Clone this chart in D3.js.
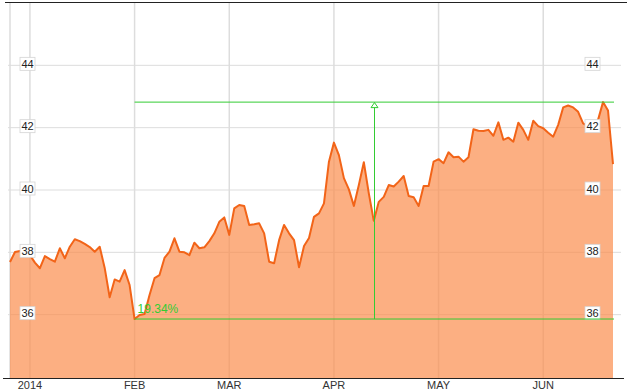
<!DOCTYPE html>
<html>
<head>
<meta charset="utf-8">
<script src="https://cdn.jsdelivr.net/npm/d3@7"></script>
<style>
  html, body { margin: 0; padding: 0; background: #fff; }
  svg { display: block; font-family: "Liberation Sans", Arial, sans-serif; }
</style>
</head>
<body>
<div id="chart"></div>
<script>
// daily closes, one per trading day (late Dec 2013 .. mid Jun 2014)
const closes = [
  37.69, 38.01, 38.04, 38.01, 37.91, 37.67, 37.49, 37.88, 37.78, 37.70,
  38.13, 37.81, 38.18, 38.42, 38.36, 38.27, 38.17, 38.02, 38.18, 37.50,
  36.56, 37.13, 37.06, 37.43, 36.95, 35.86, 35.99, 36.02, 36.63, 37.17,
  37.27, 37.82, 38.02, 38.45, 38.02, 38.00, 37.91, 38.31, 38.13, 38.16,
  38.36, 38.61, 38.98, 39.12, 38.56, 39.41, 39.52, 39.49, 38.88, 38.90,
  38.93, 38.61, 37.70, 37.65, 38.39, 38.88, 38.61, 38.39, 37.52, 38.20,
  38.46, 39.14, 39.25, 39.57, 40.91, 41.52, 41.12, 40.38, 40.02, 39.49,
  40.16, 40.89, 39.89, 39.01, 39.62, 39.78, 40.16, 40.11, 40.27, 40.45,
  39.81, 39.77, 39.49, 40.13, 40.13, 40.91, 40.99, 40.86, 41.21, 41.05,
  41.07, 40.91, 41.05, 41.95, 41.90, 41.89, 41.93, 41.74, 42.17, 41.61,
  41.68, 41.55, 42.16, 41.93, 41.61, 42.22, 42.05, 41.98, 41.84, 41.71,
  42.09, 42.65, 42.71, 42.65, 42.51, 42.14, 42.05, 42.05, 42.25, 42.82,
  42.55, 40.83
];

// month ticks: index of first trading day in each month
const monthIdx = [4, 25, 44, 65, 86, 107];
const monthLabels = ["2014", "FEB", "MAR", "APR", "MAY", "JUN"];
const priceTicks = [36, 38, 40, 42, 44];

// measure annotation
const measureIdx = 73;
const measureLabel = "19.34%";

const w = 629, h = 391;
const green = "#33cc33";

const svg = d3.select("#chart").append("svg")
  .attr("width", w)
  .attr("height", h);

const x = d3.scaleLinear()
  .domain([0, closes.length - 1])
  .range([10, 613]);
const y = d3.scaleLinear()
  .domain([34, 46])
  .range([377, 3]);

// vertical grid
svg.append("line")
  .attr("x1", 10).attr("x2", 10)
  .attr("y1", 2).attr("y2", 378)
  .attr("stroke", "#dddddd").attr("stroke-width", 1.5);
svg.selectAll(".vgrid")
  .data(monthIdx)
  .enter().append("line")
  .attr("class", "vgrid")
  .attr("x1", d => x(d)).attr("x2", d => x(d))
  .attr("y1", 2).attr("y2", 378)
  .attr("stroke", "#dddddd").attr("stroke-width", 1.5);

// horizontal grid
svg.selectAll(".hgrid")
  .data(priceTicks)
  .enter().append("line")
  .attr("class", "hgrid")
  .attr("x1", 8).attr("x2", 621)
  .attr("y1", d => y(d)).attr("y2", d => y(d))
  .attr("stroke", "#dddddd").attr("stroke-width", 1);

// area + line
const area = d3.area()
  .x((d, i) => x(i))
  .y0(378)
  .y1(d => y(d));
const line = d3.line()
  .x((d, i) => x(i))
  .y(d => y(d));

svg.append("path")
  .datum(closes)
  .attr("d", area)
  .attr("fill", "#fb8d4d")
  .attr("fill-opacity", 0.7);
svg.append("path")
  .datum(closes)
  .attr("d", line)
  .attr("fill", "none")
  .attr("stroke", "#f26418")
  .attr("stroke-width", 2)
  .attr("stroke-linejoin", "round");

// frame lines
svg.append("line")
  .attr("x1", 5).attr("x2", 627)
  .attr("y1", 2.5).attr("y2", 2.5)
  .attr("stroke", "#222").attr("stroke-width", 1.2);
svg.append("line")
  .attr("x1", 3).attr("x2", 624)
  .attr("y1", 378.5).attr("y2", 378.5)
  .attr("stroke", "#222").attr("stroke-width", 1.2);

// month labels
svg.selectAll(".mlabel")
  .data(monthIdx)
  .enter().append("text")
  .attr("class", "mlabel")
  .attr("x", d => x(d))
  .attr("y", 389)
  .attr("text-anchor", "middle")
  .attr("font-size", "11px")
  .attr("fill", "#333")
  .text((d, i) => monthLabels[i]);

// price labels, both sides
[27.5, 592.5].forEach(cx => {
  const g = svg.selectAll(null)
    .data(priceTicks)
    .enter().append("g")
    .attr("transform", d => `translate(${cx},${y(d) - 1.5})`);
  g.append("rect")
    .attr("x", -7.5).attr("y", -6.5)
    .attr("width", 15).attr("height", 13)
    .attr("fill", "#fff")
    .attr("stroke", "#d4d4d4").attr("stroke-width", 0.8);
  g.append("text")
    .attr("y", 4)
    .attr("text-anchor", "middle")
    .attr("font-size", "11px")
    .attr("fill", "#222")
    .text(d => d);
});

// measure tool: min to max
const iMin = d3.minIndex(closes), iMax = d3.maxIndex(closes);
const vMin = closes[iMin], vMax = closes[iMax];
const xEnd = x(closes.length - 1) + 1;

svg.append("line")
  .attr("x1", x(iMin)).attr("x2", xEnd)
  .attr("y1", y(vMin)).attr("y2", y(vMin))
  .attr("stroke", green).attr("stroke-width", 1);
svg.append("line")
  .attr("x1", x(iMin)).attr("x2", xEnd)
  .attr("y1", y(vMax)).attr("y2", y(vMax))
  .attr("stroke", green).attr("stroke-width", 1);
const mx = Math.round(x(measureIdx)) + 0.5;
svg.append("line")
  .attr("x1", mx).attr("x2", mx)
  .attr("y1", y(vMax)).attr("y2", y(vMin))
  .attr("stroke", green).attr("stroke-width", 1);
svg.append("path")
  .attr("d", `M${mx},${y(vMax) + 0.5} L${mx + 3.5},${y(vMax) + 5.5} L${mx - 3.5},${y(vMax) + 5.5} Z`)
  .attr("fill", "#fff")
  .attr("stroke", green).attr("stroke-width", 1);

svg.append("text")
  .attr("x", x(iMin) + 3)
  .attr("y", y(vMin) - 6)
  .attr("font-size", "12px")
  .attr("fill", green)
  .text(measureLabel);
</script>
</body>
</html>
